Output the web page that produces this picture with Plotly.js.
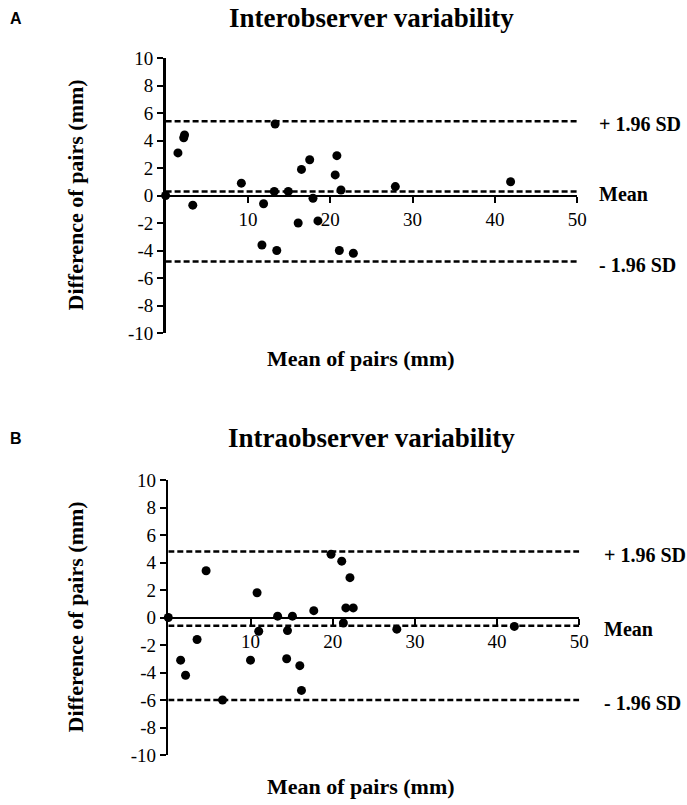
<!DOCTYPE html>
<html>
<head>
<meta charset="utf-8">
<script src="https://cdn.plot.ly/plotly-3.0.1.min.js"></script>
<style>html,body{margin:0;padding:0;background:#fff;}#chart{width:687px;height:805px;}</style>
</head>
<body>
<div id="chart"></div>
<script>
// Panel A: Interobserver
const interX = [0, 1.5, 2.2, 2.3, 3.3, 9.2, 11.7, 11.9, 13.2, 13.3, 13.5, 14.9, 16.1, 16.5, 17.5, 17.9, 18.5, 20.6, 20.8, 21.1, 21.3, 22.8, 27.9, 41.9];
const interY = [0, 3.1, 4.2, 4.4, -0.7, 0.9, -3.6, -0.6, 0.3, 5.2, -4.0, 0.3, -2.0, 1.9, 2.6, -0.2, -1.85, 1.5, 2.9, -4.0, 0.4, -4.2, 0.65, 1.0];
const interLimits = {upper: 5.4, mean: 0.3, lower: -4.8};

// Panel B: Intraobserver
const intraX = [0, 1.5, 2.1, 3.5, 4.6, 6.6, 10.0, 10.8, 11.0, 13.3, 14.4, 14.5, 15.1, 16.0, 16.2, 17.7, 19.8, 21.1, 21.3, 21.6, 22.1, 22.5, 27.8, 42.1];
const intraY = [0, -3.1, -4.2, -1.6, 3.4, -6.0, -3.1, 1.8, -1.0, 0.1, -3.0, -0.95, 0.1, -3.5, -5.3, 0.5, 4.6, 4.1, -0.4, 0.7, 2.9, 0.7, -0.85, -0.65];
const intraLimits = {upper: 4.8, mean: -0.6, lower: -6.0};

const xTicks = [10, 20, 30, 40, 50];
const yTicks = [-10, -8, -6, -4, -2, 0, 2, 4, 6, 8, 10];
const yTickText = ["-10", "-8", "-6", "-4", "-2", "0", "2", "4", "6", "8", "10"];
const xRange = [0, 50];
const yRange = [-10, 10];
const titles = ["Interobserver variability", "Intraobserver variability"];
const panelLabels = ["A", "B"];
const limitLabels = ["+ 1.96 SD", "Mean", "- 1.96 SD"];

const serif = "Liberation Serif";
const W = 687, H = 805;

function pts(x, y, xa, ya) {
  return {x: x, y: y, xaxis: xa, yaxis: ya, type: "scatter", mode: "markers",
    marker: {color: "#000", size: 9}, cliponaxis: false, hoverinfo: "skip", showlegend: false};
}
function hline(v, xa, ya) {
  return {x: xRange, y: [v, v], xaxis: xa, yaxis: ya, type: "scatter", mode: "lines",
    line: {color: "#000", width: 2.5, dash: "6px,3px"}, cliponaxis: false, hoverinfo: "skip", showlegend: false};
}

const data = [
  hline(interLimits.upper, "x", "y"), hline(interLimits.mean, "x", "y"), hline(interLimits.lower, "x", "y"),
  pts(interX, interY, "x", "y"),
  hline(intraLimits.upper, "x2", "y2"), hline(intraLimits.mean, "x2", "y2"), hline(intraLimits.lower, "x2", "y2"),
  pts(intraX, intraY, "x2", "y2")
];

const px = v => v / W;
const py = v => 1 - v / H;

const domA = {x: [px(165.6), px(577.3)], y: [py(333), py(58)]};
const domB = {x: [px(168.3), px(579.3)], y: [py(755), py(480)]};

const tickFont = {family: serif, size: 19, color: "#000", weight: "normal"};

function xaxisDef(dom) {
  return {domain: dom.x, range: xRange, anchor: "free", position: (dom.y[0] + dom.y[1]) / 2,
    showline: true, linecolor: "#000", linewidth: 2.5, showgrid: false, zeroline: false,
    tickmode: "array", tickvals: xTicks, ticktext: xTicks.map(String), ticks: "outside", ticklen: 6, tickwidth: 2, tickcolor: "#000",
    tickfont: tickFont, fixedrange: true};
}
function yaxisDef(dom, anchorX) {
  return {domain: dom.y, range: yRange, anchor: anchorX,
    showline: true, linecolor: "#000", linewidth: 2.5, showgrid: false, zeroline: false,
    tickmode: "array", tickvals: yTicks, ticktext: yTickText, ticks: "outside", ticklen: 6, tickwidth: 2, tickcolor: "#000",
    tickfont: tickFont, fixedrange: true};
}

const annotations = [];
function panelAnn(dom, idx, limits, ya, titleY, labelX, xTitleY) {
  annotations.push({text: "<b>" + titles[idx] + "</b>", xref: "paper", yref: "paper", x: px(371), y: py(titleY),
    showarrow: false, xanchor: "center", yanchor: "middle", font: {family: serif, size: 27, color: "#000"}});
  annotations.push({text: "<b>" + panelLabels[idx] + "</b>", xref: "paper", yref: "paper", x: px(8), y: py(titleY),
    showarrow: false, xanchor: "left", yanchor: "middle", font: {family: "Liberation Sans", size: 16, color: "#000"}});
  annotations.push({text: "<b>Difference of pairs (mm)</b>", xref: "paper", yref: "paper", x: px(75), y: (dom.y[0] + dom.y[1]) / 2,
    showarrow: false, textangle: -90, xanchor: "center", yanchor: "middle", font: {family: serif, size: 22, color: "#000"}});
  annotations.push({text: "<b>Mean of pairs (mm)</b>", xref: "paper", yref: "paper", x: px(361), y: py(xTitleY),
    showarrow: false, xanchor: "center", yanchor: "middle", font: {family: serif, size: 22, color: "#000"}});
  const vals = [limits.upper, limits.mean, limits.lower];
  vals.forEach((v, i) => {
    annotations.push({text: "<b>" + limitLabels[i] + "</b>", xref: "paper", yref: ya, x: px(labelX), y: v,
      showarrow: false, xanchor: "left", yanchor: "middle", yshift: -3, font: {family: serif, size: 20, color: "#000"}});
  });
}
panelAnn(domA, 0, interLimits, "y", 18, 597, 358);
panelAnn(domB, 1, intraLimits, "y2", 438, 602, 786);

const layout = {
  width: W, height: H, margin: {l: 0, r: 0, t: 0, b: 0},
  font: {family: serif, color: "#000"},
  paper_bgcolor: "#fff", plot_bgcolor: "rgba(0,0,0,0)",
  showlegend: false,
  xaxis: xaxisDef(domA), yaxis: yaxisDef(domA, "x"),
  xaxis2: xaxisDef(domB), yaxis2: yaxisDef(domB, "x2"),
  annotations: annotations
};

Plotly.newPlot("chart", data, layout, {staticPlot: true});
</script>
</body>
</html>
